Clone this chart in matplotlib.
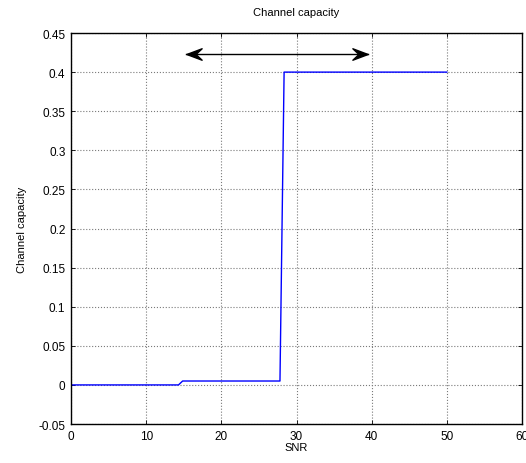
import matplotlib.pyplot as plt
from matplotlib.path import Path

plt.rcParams['font.family'] = ['Liberation Sans', 'DejaVu Sans']

# SNR values and channel capacity
snr = [0, 14.3, 14.85, 27.8, 28.35, 50]
capacity = [0, 0, 0.005, 0.005, 0.4, 0.4]

xticks = [0, 10, 20, 30, 40, 50, 60]
yticks = [-0.05, 0, 0.05, 0.1, 0.15, 0.2, 0.25, 0.3, 0.35, 0.4, 0.45]
ytick_labels = ['-0.05', '0', '0.05', '0.1', '0.15', '0.2', '0.25', '0.3', '0.35', '0.4', '0.45']

# double arrow marking the range
arrow_x = [15.3, 39.5]
arrow_y = 0.4235

fig = plt.figure(figsize=(5.26, 4.64), dpi=100)
ax = fig.add_axes([0.135, 0.084, 0.8574, 0.8427])

ax.plot(snr, capacity, color='blue', linewidth=1)

# chevron style arrow heads (matlab look)
left_head = Path([(-1, 0), (1, 0.75), (0.2, 0), (1, -0.75), (-1, 0)],
                 [Path.MOVETO, Path.LINETO, Path.LINETO, Path.LINETO, Path.CLOSEPOLY])
right_head = Path([(1, 0), (-1, 0.75), (-0.2, 0), (-1, -0.75), (1, 0)],
                  [Path.MOVETO, Path.LINETO, Path.LINETO, Path.LINETO, Path.CLOSEPOLY])
ax.plot(arrow_x, [arrow_y, arrow_y], color='black', linewidth=1)
ax.plot([arrow_x[0] + 1.0], [arrow_y], marker=left_head, markersize=11, color='black', linestyle='none')
ax.plot([arrow_x[1] - 1.0], [arrow_y], marker=right_head, markersize=11, color='black', linestyle='none')

ax.set_xlim(0, 60)
ax.set_ylim(-0.05, 0.45)
ax.set_xticks(xticks)
ax.set_yticks(yticks)
ax.set_yticklabels(ytick_labels)
ax.grid(True, color='#7a7a7a', linestyle=':', linewidth=0.8)
ax.tick_params(direction='in', length=3, labelsize=8.5, top=True, right=True, width=0.6, pad=4)
for s in ax.spines.values():
    s.set_linewidth(1.0)

ax.set_title('Channel capacity', fontsize=8, pad=13)
ax.set_xlabel('SNR', fontsize=8, labelpad=0)
ax.set_ylabel('Channel capacity', fontsize=8, labelpad=8)

fig.savefig('out.png', dpi=100)
